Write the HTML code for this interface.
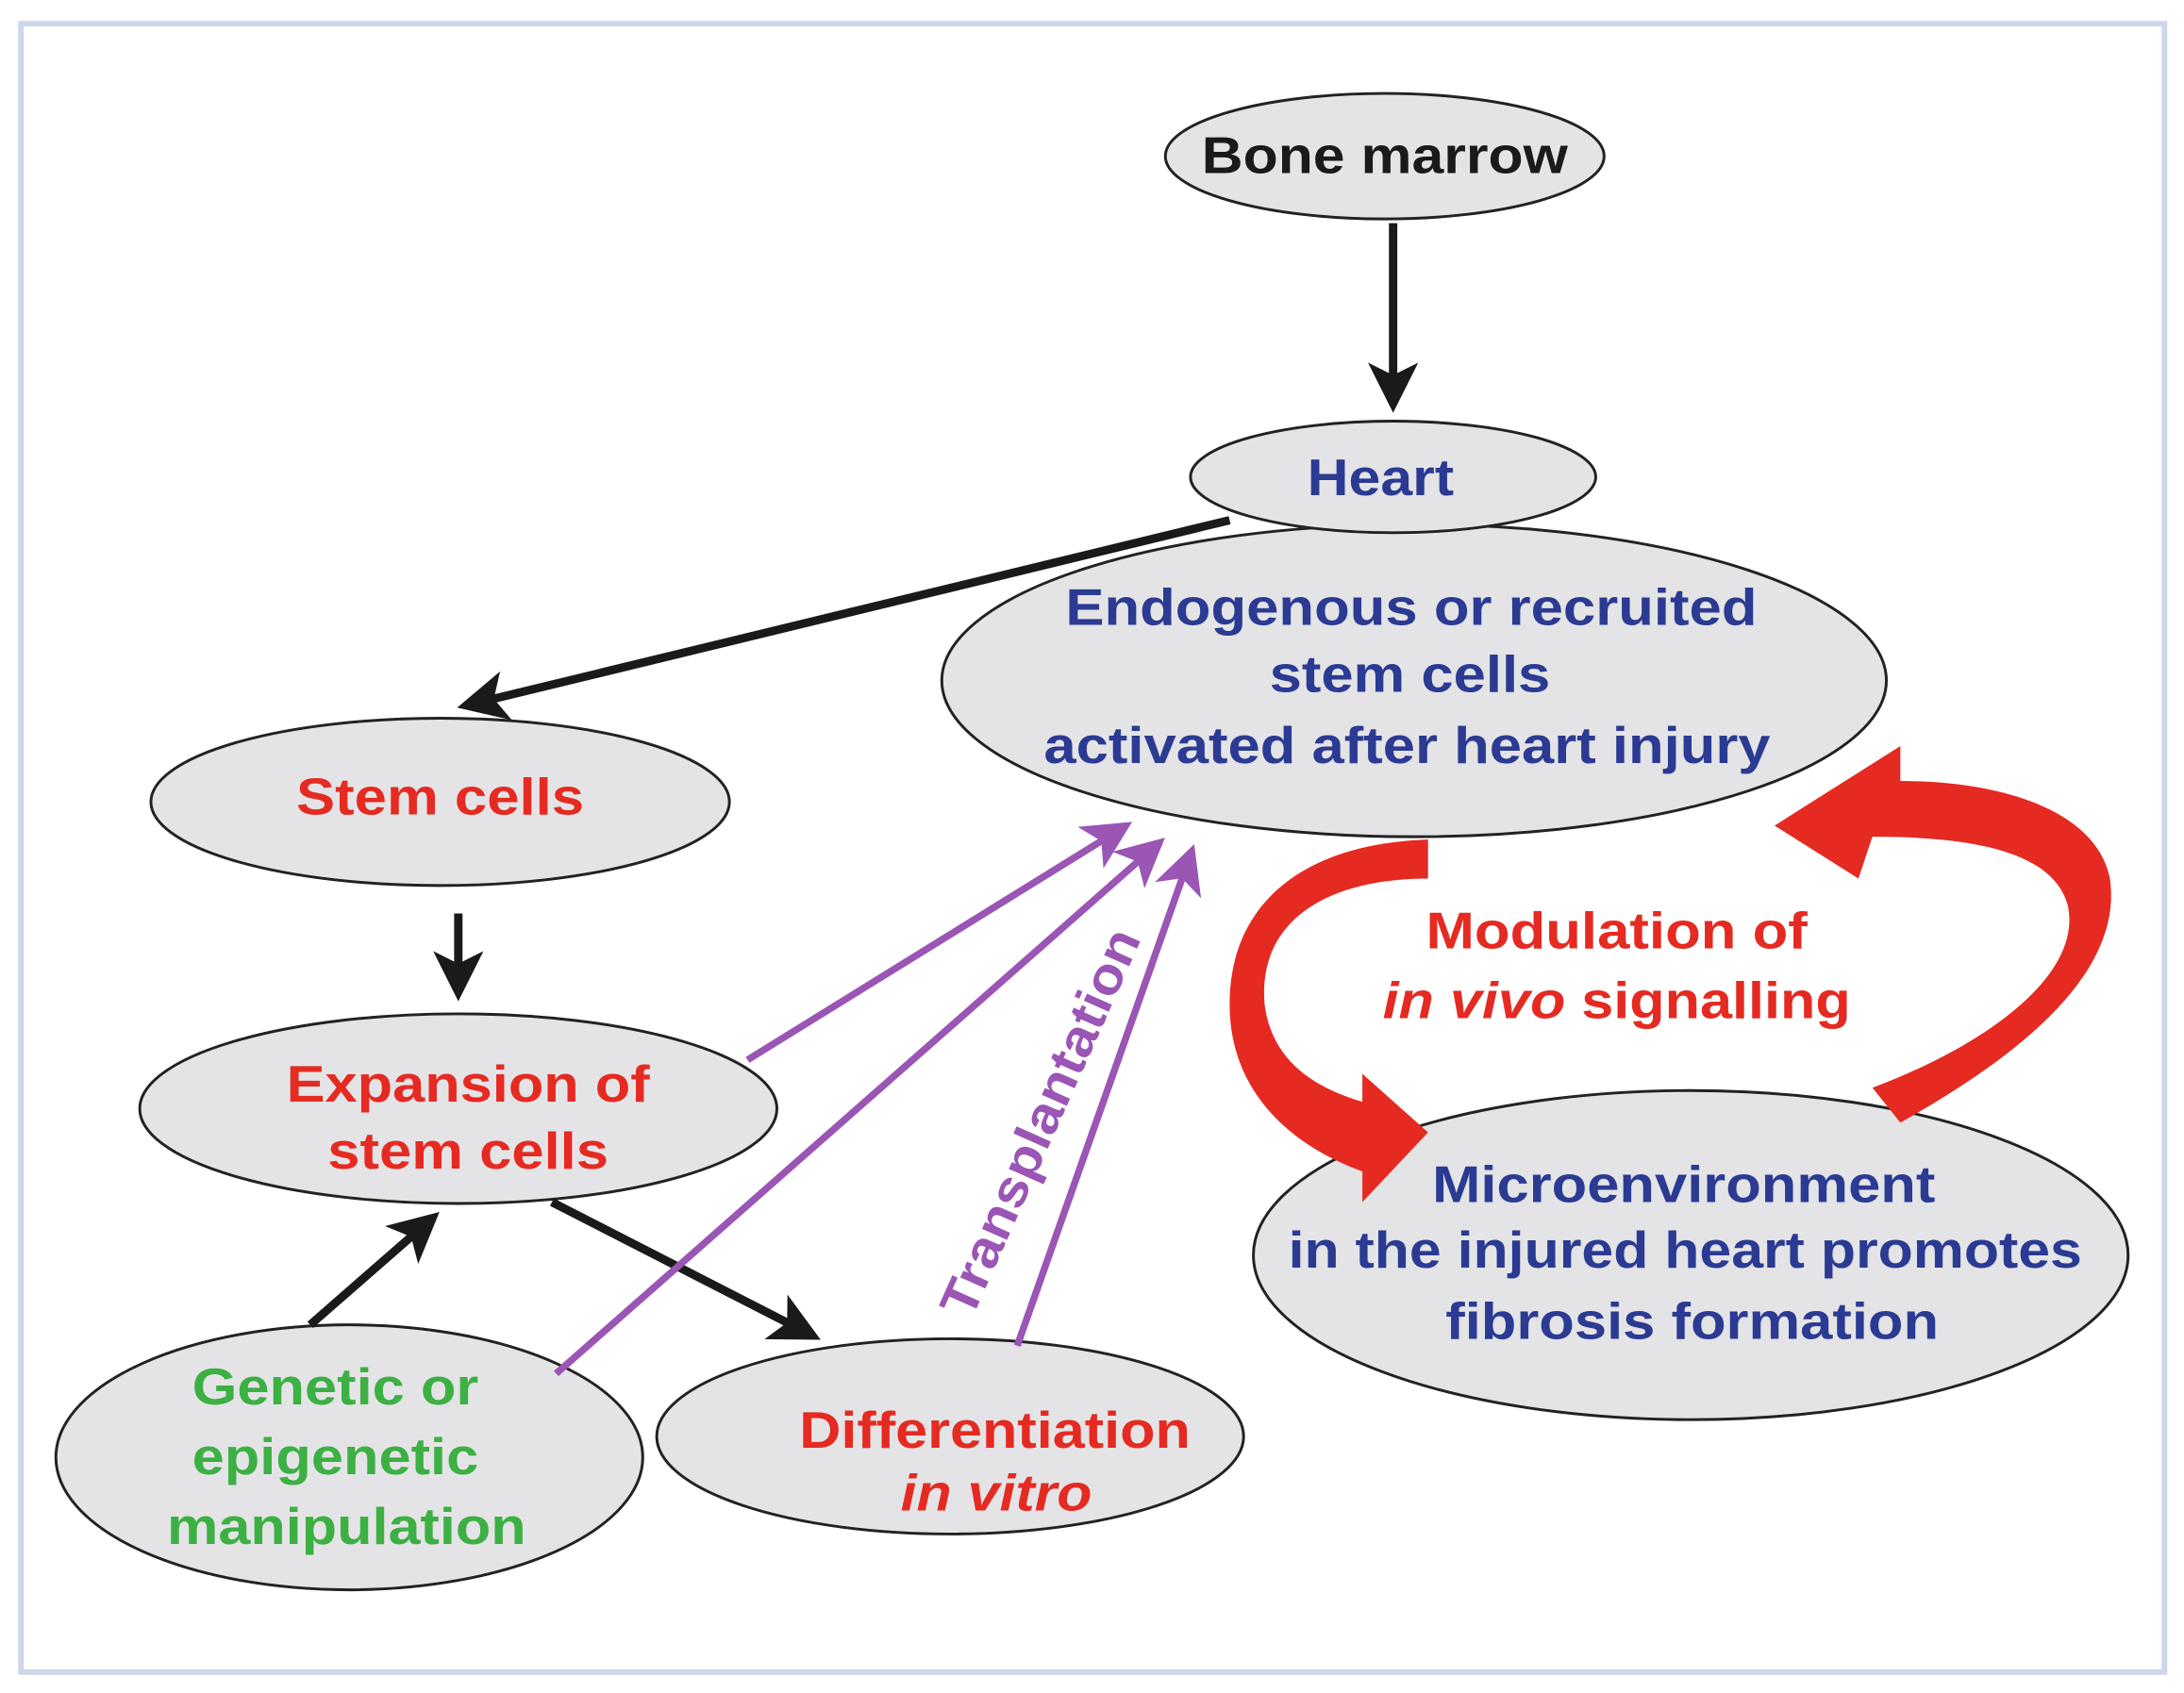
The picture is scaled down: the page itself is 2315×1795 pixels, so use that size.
<!DOCTYPE html>
<html><head><meta charset="utf-8"><style>
html,body{margin:0;padding:0;background:#fff;}
svg{display:block;}
text{font-family:"Liberation Sans",Arial,sans-serif;font-weight:bold;text-anchor:middle;}
</style></head><body>
<svg width="2315" height="1795" viewBox="0 0 1563 1214" preserveAspectRatio="none" xmlns="http://www.w3.org/2000/svg">
<defs>
<marker id="ab" markerWidth="6" markerHeight="6" refX="5" refY="3" orient="auto" markerUnits="strokeWidth"><path d="M0,0 L6,3 L0,6 L1.5,3 Z" fill="#1a1a1a"/></marker>
<marker id="ap" markerWidth="7" markerHeight="7" refX="6" refY="3.5" orient="auto" markerUnits="strokeWidth"><path d="M0,0 L7,3.5 L0,7 L1.8,3.5 Z" fill="#9a55b5"/></marker>
</defs>
<rect x="15" y="17" width="1534" height="1182" fill="#fff" stroke="#cfd6ea" stroke-width="4"/>
<g fill="#e4e4e6" stroke="#222" stroke-width="2">
<ellipse cx="991" cy="112" rx="157" ry="45"/>
<ellipse cx="1012" cy="488" rx="338" ry="112"/>
<ellipse cx="997" cy="342" rx="145" ry="40"/>
<ellipse cx="315" cy="575" rx="207" ry="60"/>
<ellipse cx="328" cy="795" rx="228" ry="68"/>
<ellipse cx="250" cy="1045" rx="210" ry="95"/>
<ellipse cx="680" cy="1030" rx="210" ry="70"/>
<ellipse cx="1210" cy="900" rx="313" ry="118"/>
</g>
<g stroke="#1a1a1a" stroke-width="6" fill="none">
<line x1="997" y1="160" x2="997" y2="290" marker-end="url(#ab)"/>
<line x1="880" y1="373" x2="333" y2="506" marker-end="url(#ab)"/>
<line x1="328" y1="655" x2="328" y2="712" marker-end="url(#ab)"/>
<line x1="222" y1="950" x2="310" y2="873" marker-end="url(#ab)"/>
<line x1="395" y1="862" x2="582" y2="958" marker-end="url(#ab)"/>
</g>
<g stroke="#9a55b5" stroke-width="5" fill="none">
<line x1="535" y1="760" x2="806" y2="592" marker-end="url(#ap)"/>
<line x1="398" y1="985" x2="830" y2="604" marker-end="url(#ap)"/>
<line x1="728" y1="965" x2="853" y2="610" marker-end="url(#ap)"/>
</g>
<g fill="#e52a22">
<path d="M1022,602 L1022,630 C950,630 900,660 905,720 C910,760 940,780 975,790 L975,770 L1022,812 L975,862 L975,840 C920,820 880,780 880,720 C880,650 930,605 1022,602 Z"/>
<path d="M1340,780 L1360,805 C1440,760 1520,700 1510,630 C1500,580 1430,560 1360,560 L1360,535 L1270,592 L1330,630 L1340,600 C1410,600 1470,610 1480,650 C1490,700 1420,750 1340,780 Z"/>
</g>
<g font-size="37" lengthAdjust="spacingAndGlyphs">
<text x="991" y="124" fill="#1a1a1a" textLength="262" lengthAdjust="spacingAndGlyphs">Bone marrow</text>
<text x="988" y="355" fill="#2b3a92" textLength="105" lengthAdjust="spacingAndGlyphs">Heart</text>
<text x="1010" y="448" fill="#2b3a92" textLength="495" lengthAdjust="spacingAndGlyphs">Endogenous or recruited</text>
<text x="1009" y="496" fill="#2b3a92" textLength="201" lengthAdjust="spacingAndGlyphs">stem cells</text>
<text x="1007" y="547" fill="#2b3a92" textLength="520" lengthAdjust="spacingAndGlyphs">activated after heart injury</text>
<text x="315" y="584" fill="#e52a22" textLength="206" lengthAdjust="spacingAndGlyphs">Stem cells</text>
<text x="335" y="790" fill="#e52a22" textLength="260" lengthAdjust="spacingAndGlyphs">Expansion of</text>
<text x="335" y="838" fill="#e52a22" textLength="201" lengthAdjust="spacingAndGlyphs">stem cells</text>
<text x="240" y="1007" fill="#3cb043" textLength="205" lengthAdjust="spacingAndGlyphs">Genetic or</text>
<text x="240" y="1057" fill="#3cb043" textLength="205" lengthAdjust="spacingAndGlyphs">epigenetic</text>
<text x="248" y="1107" fill="#3cb043" textLength="257" lengthAdjust="spacingAndGlyphs">manipulation</text>
<text x="712" y="1038" fill="#e52a22" textLength="280" lengthAdjust="spacingAndGlyphs">Differentiation</text>
<text x="713" y="1083" fill="#e52a22" font-style="italic" textLength="137" lengthAdjust="spacingAndGlyphs">in vitro</text>
<text x="1157" y="680" fill="#e52a22" textLength="273" lengthAdjust="spacingAndGlyphs">Modulation of</text>
<text x="1157" y="730" fill="#e52a22" textLength="335" lengthAdjust="spacingAndGlyphs"><tspan font-style="italic">in vivo</tspan> signalling</text>
<text x="1205" y="862" fill="#2b3a92" textLength="360" lengthAdjust="spacingAndGlyphs">Microenvironment</text>
<text x="1206" y="909" fill="#2b3a92" textLength="568" lengthAdjust="spacingAndGlyphs">in the injured heart promotes</text>
<text x="1211" y="960" fill="#2b3a92" textLength="353" lengthAdjust="spacingAndGlyphs">fibrosis formation</text>
<text x="0" y="12" fill="#9a55b5" transform="translate(745,805) rotate(-66)" textLength="300" lengthAdjust="spacingAndGlyphs">Transplantation</text>
</g>
</svg>
</body></html>
